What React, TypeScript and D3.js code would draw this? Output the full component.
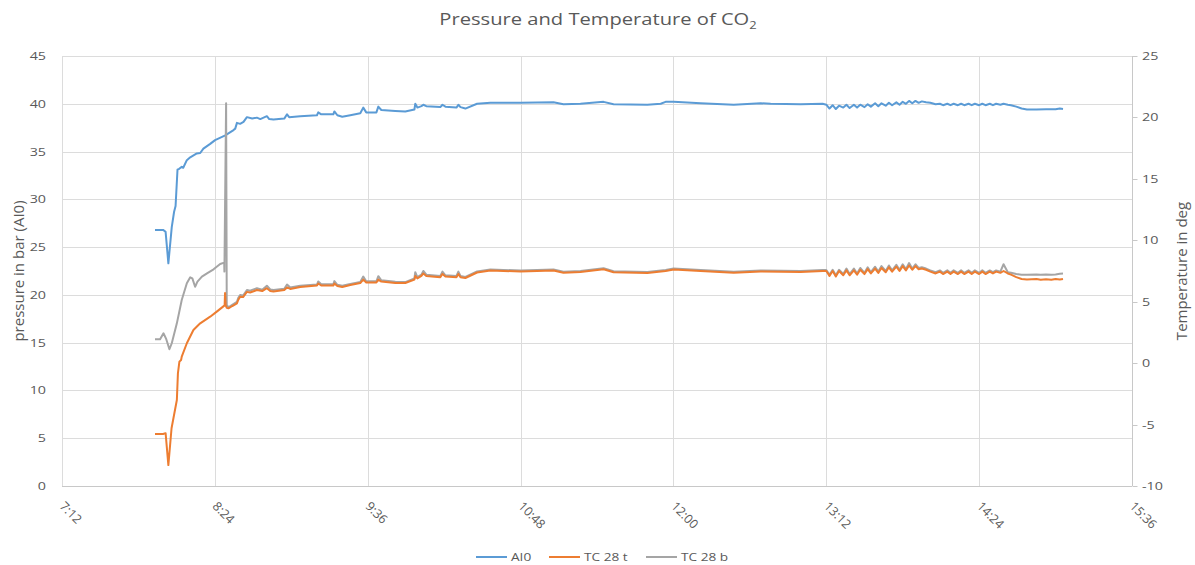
import React from 'react';
import * as d3 from 'd3';

// Time axis tick labels (H:MM)
const timeTickLabels = ['7:12', '8:24', '9:36', '10:48', '12:00', '13:12', '14:24', '15:36'];
// Left axis (pressure, bar)
const pressureTicks = [0, 5, 10, 15, 20, 25, 30, 35, 40, 45];
// Right axis (temperature, deg)
const temperatureTicks = [-10, -5, 0, 5, 10, 15, 20, 25];

const seriesNames = ['AI0', 'TC 28 t', 'TC 28 b'];
const seriesColors = ['#5B9BD5', '#ED7D31', '#A5A5A5'];

// [minutes after midnight, pressure in bar]
const ai0Data: [number, number][] = [
  [475.8, 26.8], [479.6, 26.8], [480.8, 26.6], [482.1, 23.3], [483.7, 27.1], [484.8, 28.7],
  [485.5, 29.3], [486.4, 33.1], [487.2, 33.2], [488.4, 33.4], [489.1, 33.3], [490.8, 34.1],
  [492.4, 34.4], [495.5, 34.8], [497.1, 34.85], [498.6, 35.3], [501.8, 35.8], [504.1, 36.2],
  [508.9, 36.7], [512.8, 37.25], [513.6, 37.4], [514.4, 38.0], [515.9, 37.9], [517.5, 38.1],
  [519.1, 38.6], [521.6, 38.45], [523.8, 38.55], [525.4, 38.4], [528.5, 38.7], [529.6, 38.4],
  [531.6, 38.35], [536.7, 38.45], [538.0, 38.9], [539.0, 38.6], [544.2, 38.7], [552.1, 38.8],
  [552.7, 39.1], [554.1, 38.9], [559.8, 38.9], [560.3, 39.2], [561.7, 38.8], [564.0, 38.65],
  [567.8, 38.8], [572.5, 39.0], [573.9, 39.6], [575.3, 39.1], [580.1, 39.1], [581.0, 39.7],
  [582.4, 39.35], [589.0, 39.25], [593.7, 39.2], [598.0, 39.4], [598.4, 40.0], [599.4, 39.6],
  [601.3, 39.75], [602.2, 39.9], [603.6, 39.75], [610.2, 39.65], [611.2, 39.9], [612.6, 39.7],
  [617.8, 39.6], [618.7, 39.9], [619.7, 39.65], [622.0, 39.5], [627.5, 40.0], [633.8, 40.1],
  [648.0, 40.1], [663.5, 40.15], [668.2, 39.95], [676.2, 40.0], [687.1, 40.2], [691.8, 39.95],
  [707.7, 39.9], [714.0, 40.0], [716.3, 40.2], [720.1, 40.2], [732.8, 40.05], [748.4, 39.9],
  [761.1, 40.05], [765.8, 40.0], [779.9, 39.95], [790.3, 40.0],
  [792, 39.9], [793.5, 39.5], [795, 39.85], [796.5, 39.45], [798, 39.8], [800, 39.6],
  [801.5, 39.9], [803, 39.55], [805, 39.9], [806.5, 39.6], [808, 39.9], [810, 39.65],
  [811.5, 39.95], [813, 39.7], [815, 40.05], [816.5, 39.75], [818, 40.05], [820, 39.8],
  [821.5, 40.1], [823, 39.85], [825, 40.15], [826.5, 39.9], [828, 40.2], [829.5, 40.0],
  [831, 40.3], [832.5, 40.05], [834, 40.3], [835.5, 40.1], [837, 40.25], [839, 40.15],
  [841, 40.1], [843.5, 39.95], [845.5, 40.0], [847, 39.85], [849, 40.0], [850.5, 39.85],
  [852, 40.0], [854, 39.85], [855.5, 40.0], [857, 39.85], [859, 40.0], [860.5, 39.85],
  [862, 40.0], [864, 39.85], [865.5, 40.0], [867, 39.85], [869, 40.0], [870.5, 39.85],
  [872, 40.0], [874, 39.9], [875.5, 40.0], [877.5, 39.9], [879, 39.85], [881.5, 39.7],
  [884, 39.5], [886.5, 39.4], [891, 39.4], [895.5, 39.42], [900, 39.42], [902, 39.5],
  [903.5, 39.45],
];

// [minutes after midnight, temperature in deg]
const tc28tData: [number, number][] = [
  [475.8, -5.77], [479.6, -5.77], [480.8, -5.7], [482.1, -8.3], [483.6, -5.3], [486.1, -3.0],
  [486.6, -0.83], [487.3, 0.12], [488.1, 0.26], [488.4, 0.53], [490.8, 1.62], [493.9, 2.7],
  [497.1, 3.24], [501.8, 3.78], [504.9, 4.19], [508.6, 4.7], [508.8, 5.7], [509.1, 4.7],
  [509.6, 4.5], [510.4, 4.46], [512.2, 4.65], [514.4, 4.87], [515.0, 5.14], [515.9, 5.4],
  [517.3, 5.38], [519.1, 5.8], [520.6, 5.75], [523.8, 5.95], [526.3, 5.87], [528.5, 6.1],
  [530.1, 5.87], [531.6, 5.83], [536.7, 5.95], [538.0, 6.16], [539.5, 6.04], [544.2, 6.2],
  [552.1, 6.32], [552.7, 6.48], [554.1, 6.32], [559.8, 6.32], [560.3, 6.48], [561.7, 6.28],
  [564.0, 6.2], [567.8, 6.36], [572.5, 6.52], [573.9, 6.8], [575.3, 6.56], [580.1, 6.56],
  [581.0, 6.8], [582.4, 6.64], [589.0, 6.52], [593.7, 6.52], [598.0, 6.8], [598.4, 7.1],
  [599.4, 6.9], [601.3, 7.1], [602.2, 7.3], [603.6, 7.1], [610.2, 7.0], [611.2, 7.26],
  [612.6, 7.05], [617.8, 7.0], [618.7, 7.26], [619.7, 7.0], [622.0, 6.93], [627.5, 7.38],
  [633.8, 7.54], [648.0, 7.46], [663.5, 7.54], [668.2, 7.36], [676.2, 7.42], [687.1, 7.64],
  [691.8, 7.4], [707.7, 7.34], [716.3, 7.5], [720.1, 7.62], [732.8, 7.5], [748.4, 7.36],
  [761.1, 7.46], [779.9, 7.42], [790.3, 7.5],
  [792, 7.5], [793.5, 7.1], [795, 7.5], [796.5, 7.05], [798, 7.5], [800, 7.15],
  [801.5, 7.55], [803, 7.15], [805, 7.55], [806.5, 7.2], [808, 7.6], [810, 7.25],
  [811.5, 7.65], [813, 7.3], [815, 7.7], [816.5, 7.35], [818, 7.75], [820, 7.4],
  [821.5, 7.8], [823, 7.45], [825, 7.85], [826.5, 7.5], [828, 7.9], [829.5, 7.55],
  [831, 7.95], [832.5, 7.6], [834, 7.9], [835.5, 7.65], [837, 7.7], [839, 7.6],
  [841, 7.45], [843.5, 7.3], [845.5, 7.45], [847, 7.25], [849, 7.45], [850.5, 7.25],
  [852, 7.45], [854, 7.25], [855.5, 7.45], [857, 7.25], [859, 7.45], [860.5, 7.25],
  [862, 7.45], [864, 7.25], [865.5, 7.45], [867, 7.25], [869, 7.45], [870.5, 7.3],
  [872, 7.45], [874, 7.35], [875.5, 7.5], [877.5, 7.3], [879, 7.2], [881.5, 7.0],
  [884, 6.85], [886.5, 6.8], [891, 6.85], [893, 6.78], [895.5, 6.82], [898, 6.78],
  [900, 6.85], [902, 6.8], [903.5, 6.85],
];

// [minutes after midnight, temperature in deg]
const tc28bData: [number, number][] = [
  [475.8, 1.94], [478.2, 1.94], [479.8, 2.43], [481.0, 2.0], [482.6, 1.13], [483.7, 1.62],
  [486.1, 3.24], [488.4, 5.14], [490.8, 6.5], [492.4, 6.99], [493.4, 6.9], [494.7, 6.22],
  [495.8, 6.63], [497.9, 7.04], [500.3, 7.31], [503.4, 7.64], [506.5, 8.07], [508.4, 8.18],
  [508.5, 7.45], [509.3, 21.15],
  [509.6, 4.75], [510.4, 4.55], [512.2, 4.75], [514.4, 5.0], [515.0, 5.3], [515.9, 5.55],
  [517.3, 5.5], [519.1, 5.95], [520.6, 5.9], [523.8, 6.1], [526.3, 5.98], [528.5, 6.3],
  [530.1, 6.0], [531.6, 5.95], [536.7, 6.05], [538.0, 6.4], [539.5, 6.15], [544.2, 6.3],
  [552.1, 6.4], [552.7, 6.65], [554.1, 6.42], [559.8, 6.42], [560.3, 6.68], [561.7, 6.38],
  [564.0, 6.3], [567.8, 6.45], [572.5, 6.6], [573.9, 7.05], [575.3, 6.66], [580.1, 6.66],
  [581.0, 7.08], [582.4, 6.74], [589.0, 6.62], [593.7, 6.6], [598.0, 6.9], [598.4, 7.4],
  [599.4, 7.0], [601.3, 7.2], [602.2, 7.5], [603.6, 7.2], [610.2, 7.1], [611.2, 7.45],
  [612.6, 7.15], [617.8, 7.1], [618.7, 7.45], [619.7, 7.1], [622.0, 7.02], [627.5, 7.46],
  [633.8, 7.62], [648.0, 7.54], [663.5, 7.62], [668.2, 7.44], [676.2, 7.5], [687.1, 7.72],
  [691.8, 7.48], [707.7, 7.42], [716.3, 7.58], [720.1, 7.7], [732.8, 7.58], [748.4, 7.44],
  [761.1, 7.54], [779.9, 7.5], [790.3, 7.58],
  [792, 7.58], [793.5, 7.2], [795, 7.6], [796.5, 7.15], [798, 7.6], [800, 7.25],
  [801.5, 7.7], [803, 7.25], [805, 7.7], [806.5, 7.3], [808, 7.75], [810, 7.35],
  [811.5, 7.8], [813, 7.4], [815, 7.85], [816.5, 7.45], [818, 7.9], [820, 7.5],
  [821.5, 7.95], [823, 7.55], [825, 8.0], [826.5, 7.6], [828, 8.05], [829.5, 7.65],
  [831, 8.15], [832.5, 7.7], [834, 8.05], [835.5, 7.75], [837, 7.8], [839, 7.7],
  [841, 7.55], [843.5, 7.4], [845.5, 7.55], [847, 7.35], [849, 7.55], [850.5, 7.35],
  [852, 7.55], [854, 7.35], [855.5, 7.55], [857, 7.35], [859, 7.55], [860.5, 7.35],
  [862, 7.55], [864, 7.35], [865.5, 7.55], [867, 7.35], [869, 7.55], [870.5, 7.4],
  [872, 7.55], [874, 7.45], [875.5, 8.05], [877.5, 7.4], [879, 7.35], [881.5, 7.25],
  [884, 7.2], [886.5, 7.2], [891, 7.22], [893, 7.2], [895.5, 7.22], [898, 7.2],
  [900, 7.22], [902, 7.28], [903.5, 7.3],
];

const toMinutes = (s: string) => {
  const [h, m] = s.split(':').map(Number);
  return h * 60 + m;
};

const FONT = "'Open Sans', 'DejaVu Sans', sans-serif";
const TEXT = '#595959';
const SX = 1.3; // horizontal stretch of the reference's text

export default function App() {
  const W = 1195;
  const H = 565;
  const left = 62;
  const right = 1132;
  const top = 56;
  const bottom = 486;

  const x = d3
    .scaleLinear()
    .domain([toMinutes(timeTickLabels[0]), toMinutes(timeTickLabels[timeTickLabels.length - 1])])
    .range([left, right]);
  const yL = d3.scaleLinear().domain([0, 45]).range([bottom, top]);
  const yR = d3.scaleLinear().domain([-10, 25]).range([bottom, top]);

  const lineL = d3
    .line<[number, number]>()
    .x((d) => x(d[0]))
    .y((d) => yL(d[1]));
  const lineR = d3
    .line<[number, number]>()
    .x((d) => x(d[0]))
    .y((d) => yR(d[1]));

  const legendItems = [
    { name: seriesNames[0], color: seriesColors[0], x0: 476 },
    { name: seriesNames[1], color: seriesColors[1], x0: 549 },
    { name: seriesNames[2], color: seriesColors[2], x0: 646 },
  ];
  const legendY = 557;

  return (
    <svg
      width={W}
      height={H}
      viewBox={`0 0 ${W} ${H}`}
      style={{ position: 'absolute', left: 0, top: 0, background: '#fff' }}
      fontFamily={FONT}
    >
      <rect x={0} y={0} width={W} height={H} fill="#fff" />
      {/* title */}
      <text
        transform={`translate(598, 25) scale(${SX},1)`}
        textAnchor="middle"
        fontSize={15.5}
        fill={TEXT}
      >
        Pressure and Temperature of CO
        <tspan fontSize={10} dy={4}>2</tspan>
      </text>

      {/* horizontal grid */}
      {pressureTicks.map((t) => (
        <line
          key={'hg' + t}
          x1={left}
          x2={right}
          y1={Math.round(yL(t)) + 0.5}
          y2={Math.round(yL(t)) + 0.5}
          stroke={t === 0 ? '#C8C8C8' : '#DCDCDC'}
          strokeWidth={1}
        />
      ))}
      {/* vertical grid */}
      {timeTickLabels.map((s) => (
        <line
          key={'vg' + s}
          x1={Math.round(x(toMinutes(s))) + 0.5}
          x2={Math.round(x(toMinutes(s))) + 0.5}
          y1={top}
          y2={bottom}
          stroke={s === timeTickLabels[timeTickLabels.length - 1] ? '#C8C8C8' : '#DCDCDC'}
          strokeWidth={1}
        />
      ))}
      {/* right axis tick marks */}
      {temperatureTicks.map((t) => (
        <line
          key={'rt' + t}
          x1={Math.round(x(toMinutes(timeTickLabels[timeTickLabels.length - 1]))) + 0.5}
          x2={Math.round(x(toMinutes(timeTickLabels[timeTickLabels.length - 1]))) + 5.5}
          y1={Math.round(yR(t)) + 0.5}
          y2={Math.round(yR(t)) + 0.5}
          stroke="#C8C8C8"
          strokeWidth={1}
        />
      ))}

      {/* left tick labels */}
      {pressureTicks.map((t) => (
        <text
          key={'lt' + t}
          transform={`translate(46, ${yL(t) + 4}) scale(${SX},1)`}
          textAnchor="end"
          fontSize={11}
          fill={TEXT}
        >
          {t}
        </text>
      ))}
      {/* right tick labels */}
      {temperatureTicks.map((t) => (
        <text
          key={'rl' + t}
          transform={`translate(1142, ${yR(t) + 4}) scale(${SX},1)`}
          textAnchor="start"
          fontSize={11}
          fill={TEXT}
        >
          {t}
        </text>
      ))}
      {/* bottom tick labels */}
      {timeTickLabels.map((s) => (
        <text
          key={'bt' + s}
          transform={`translate(${x(toMinutes(s)) - 3}, 507) rotate(45)`}
          textAnchor="start"
          fontSize={12.5}
          fill={TEXT}
        >
          {s}
        </text>
      ))}

      {/* axis titles */}
      <text
        transform={`translate(24, ${(top + bottom) / 2}) rotate(-90)`}
        textAnchor="middle"
        fontSize={15}
        fill={TEXT}
      >
        pressure in bar (AI0)
      </text>
      <text
        transform={`translate(1187, ${(top + bottom) / 2}) rotate(-90)`}
        textAnchor="middle"
        fontSize={15}
        fill={TEXT}
      >
        Temperature in deg
      </text>

      {/* series */}
      <path d={lineL(ai0Data) || ''} fill="none" stroke={seriesColors[0]} strokeWidth={2} strokeLinejoin="round" />
      <path d={lineR(tc28bData) || ''} fill="none" stroke={seriesColors[2]} strokeWidth={2} strokeLinejoin="round" />
      <path d={lineR(tc28tData) || ''} fill="none" stroke={seriesColors[1]} strokeWidth={2} strokeLinejoin="round" />

      {/* legend */}
      {legendItems.map((it) => (
        <g key={it.name}>
          <line x1={it.x0} x2={it.x0 + 31} y1={legendY} y2={legendY} stroke={it.color} strokeWidth={2} />
          <text
            transform={`translate(${it.x0 + 35}, ${legendY + 4}) scale(${SX},1)`}
            fontSize={10.5}
            fill={TEXT}
          >
            {it.name}
          </text>
        </g>
      ))}
    </svg>
  );
}
